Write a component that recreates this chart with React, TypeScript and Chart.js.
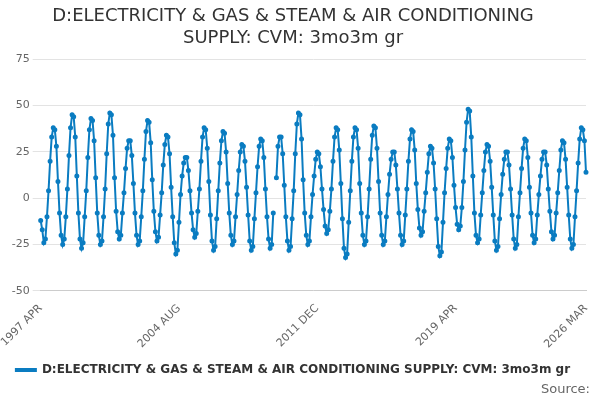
import React, { useEffect, useRef } from "react";
import { Chart, registerables } from "chart.js";
Chart.register(...registerables);

const MONTHS = ["JAN","FEB","MAR","APR","MAY","JUN","JUL","AUG","SEP","OCT","NOV","DEC"];
const shownTicks = ["1997 APR", "2004 AUG", "2011 DEC", "2019 APR", "2026 MAR"];
const v1997 = [-12,-17,-24,-22,-10,4,20,33,38];
const v1998 = [37,28,9,-8,-20,-25,-22,-10,5,23,38,45];
const v1999 = [44,33,12,-8,-22,-27,-24,-10,4,22,37,43];
const v2000 = [42,31,11,-8,-20,-25,-23,-10,5,24,40,46];
const v2001 = [45,34,11,-7,-18,-22,-20,-8,3,16,27,31];
const v2002 = [31,23,8,-8,-20,-25,-23,-10,4,21,36,42];
const v2003 = [41,30,10,-7,-18,-23,-21,-9,3,18,29,34];
const v2004 = [33,24,6,-10,-24,-30,-28,-13,2,12,19,22];
const v2005 = [22,15,4,-8,-17,-21,-19,-7,5,20,33,38];
const v2006 = [37,27,9,-9,-23,-28,-26,-11,4,19,31,36];
const v2007 = [35,25,8,-8,-20,-25,-23,-10,2,15,25,29];
const v2008 = [28,20,6,-9,-23,-28,-26,-11,3,17,28,32];
const v2009 = [31,22,5,-10,-22,-27,-25,-8,null,11,28,33];
const v2010 = [33,24,7,-10,-23,-28,-26,-11,4,24,40,46];
const v2011 = [45,32,10,-8,-20,-25,-23,-10,2,12,21,25];
const v2012 = [24,17,5,-6,-15,-19,-17,-7,5,20,33,38];
const v2013 = [37,26,8,-11,-27,-32,-30,-13,4,20,33,38];
const v2014 = [37,27,8,-8,-20,-25,-23,-10,5,21,34,39];
const v2015 = [38,27,9,-8,-20,-25,-23,-10,2,13,21,25];
const v2016 = [25,18,5,-8,-20,-25,-23,-9,5,20,32,37];
const v2017 = [36,26,8,-6,-16,-20,-18,-7,3,14,24,28];
const v2018 = [27,19,5,-11,-26,-31,-29,-13,3,16,27,32];
const v2019 = [31,22,7,-5,-14,-17,-15,-5,9,26,41,48];
const v2020 = [47,33,12,-8,-20,-24,-22,-9,3,15,25,29];
const v2021 = [28,20,6,-9,-23,-28,-26,-11,2,13,21,25];
const v2022 = [25,18,5,-9,-22,-27,-25,-10,3,16,27,32];
const v2023 = [31,22,6,-8,-20,-24,-22,-9,2,12,21,25];
const v2024 = [25,18,5,-7,-18,-22,-20,-8,3,15,26,31];
const v2025 = [30,21,6,-9,-22,-27,-25,-10,4,19,32,38];
const v2026 = [37,31,14];

const values: (number | null)[] = [
  ...v1997, ...v1998, ...v1999, ...v2000, ...v2001, ...v2002, ...v2003, ...v2004,
  ...v2005, ...v2006, ...v2007, ...v2008, ...v2009, ...v2010, ...v2011, ...v2012,
  ...v2013, ...v2014, ...v2015, ...v2016, ...v2017, ...v2018, ...v2019, ...v2020,
  ...v2021, ...v2022, ...v2023, ...v2024, ...v2025, ...v2026,
];
const labels: string[] = values.map((_, i) => {
  const m = 3 + i;
  return `${1997 + Math.floor(m / 12)} ${MONTHS[m % 12]}`;
});

const sourcePlugin = {
  id: "source",
  afterDraw(chart: any) {
    const ctx = chart.ctx;
    ctx.save();
    ctx.font = "13px 'DejaVu Sans'";
    ctx.fillStyle = "#666";
    ctx.textAlign = "right";
    ctx.textBaseline = "middle";
    ctx.fillText("Source:", 590, 390);
    ctx.restore();
  },
};

export default function App() {
  const ref = useRef<HTMLCanvasElement>(null);
  useEffect(() => {
    const chart = new Chart(ref.current!, {
      type: "line",
      data: {
        labels,
        datasets: [{
          label: "D:ELECTRICITY & GAS & STEAM & AIR CONDITIONING SUPPLY: CVM: 3mo3m gr",
          data: values,
          borderColor: "#0a7cc1",
          backgroundColor: "#0a7cc1",
          borderWidth: 2,
          pointRadius: 1.5,
          pointHoverRadius: 3,
          tension: 0,
          spanGaps: false,
        }],
      },
      options: {
        animation: false,
        responsive: false,
        layout: { padding: { left: 0, right: 14, bottom: 14 } },
        plugins: {
          title: {
            display: true,
            text: ["D:ELECTRICITY & GAS & STEAM & AIR CONDITIONING", "SUPPLY: CVM: 3mo3m gr"],
            font: { family: "'DejaVu Sans'", size: 18, weight: "normal" },
            color: "#333",
            padding: { top: 6, bottom: 10 },
          },
          legend: {
            position: "bottom",
            labels: {
              usePointStyle: false,
              boxWidth: 20,
              boxHeight: 2,
              font: { family: "'DejaVu Sans'", size: 12, weight: "bold" },
              color: "#333",
            },
          },
          tooltip: { enabled: false },
        },
        scales: {
          x: {
            grid: { display: false },
            border: { color: "#ccc" },
            ticks: {
              autoSkip: false,
              maxRotation: 45,
              minRotation: 45,
              font: { family: "'DejaVu Sans'", size: 11 },
              color: "#666",
              callback: (_v: any, i: number) => (shownTicks.includes(labels[i]) ? labels[i] : null),
            },
          },
          y: {
            min: -50,
            max: 75,
            ticks: { stepSize: 25, font: { family: "'DejaVu Sans'", size: 11 }, color: "#666" },
            grid: { color: "#e3e3e3" },
            border: { display: false },
          },
        },
      },
      plugins: [sourcePlugin],
    });
    return () => chart.destroy();
  }, []);
  return (
    <div style={{ position: "fixed", left: 0, top: 0, width: 600, height: 400 }}>
      <canvas ref={ref} width={600} height={400} />
    </div>
  );
}
